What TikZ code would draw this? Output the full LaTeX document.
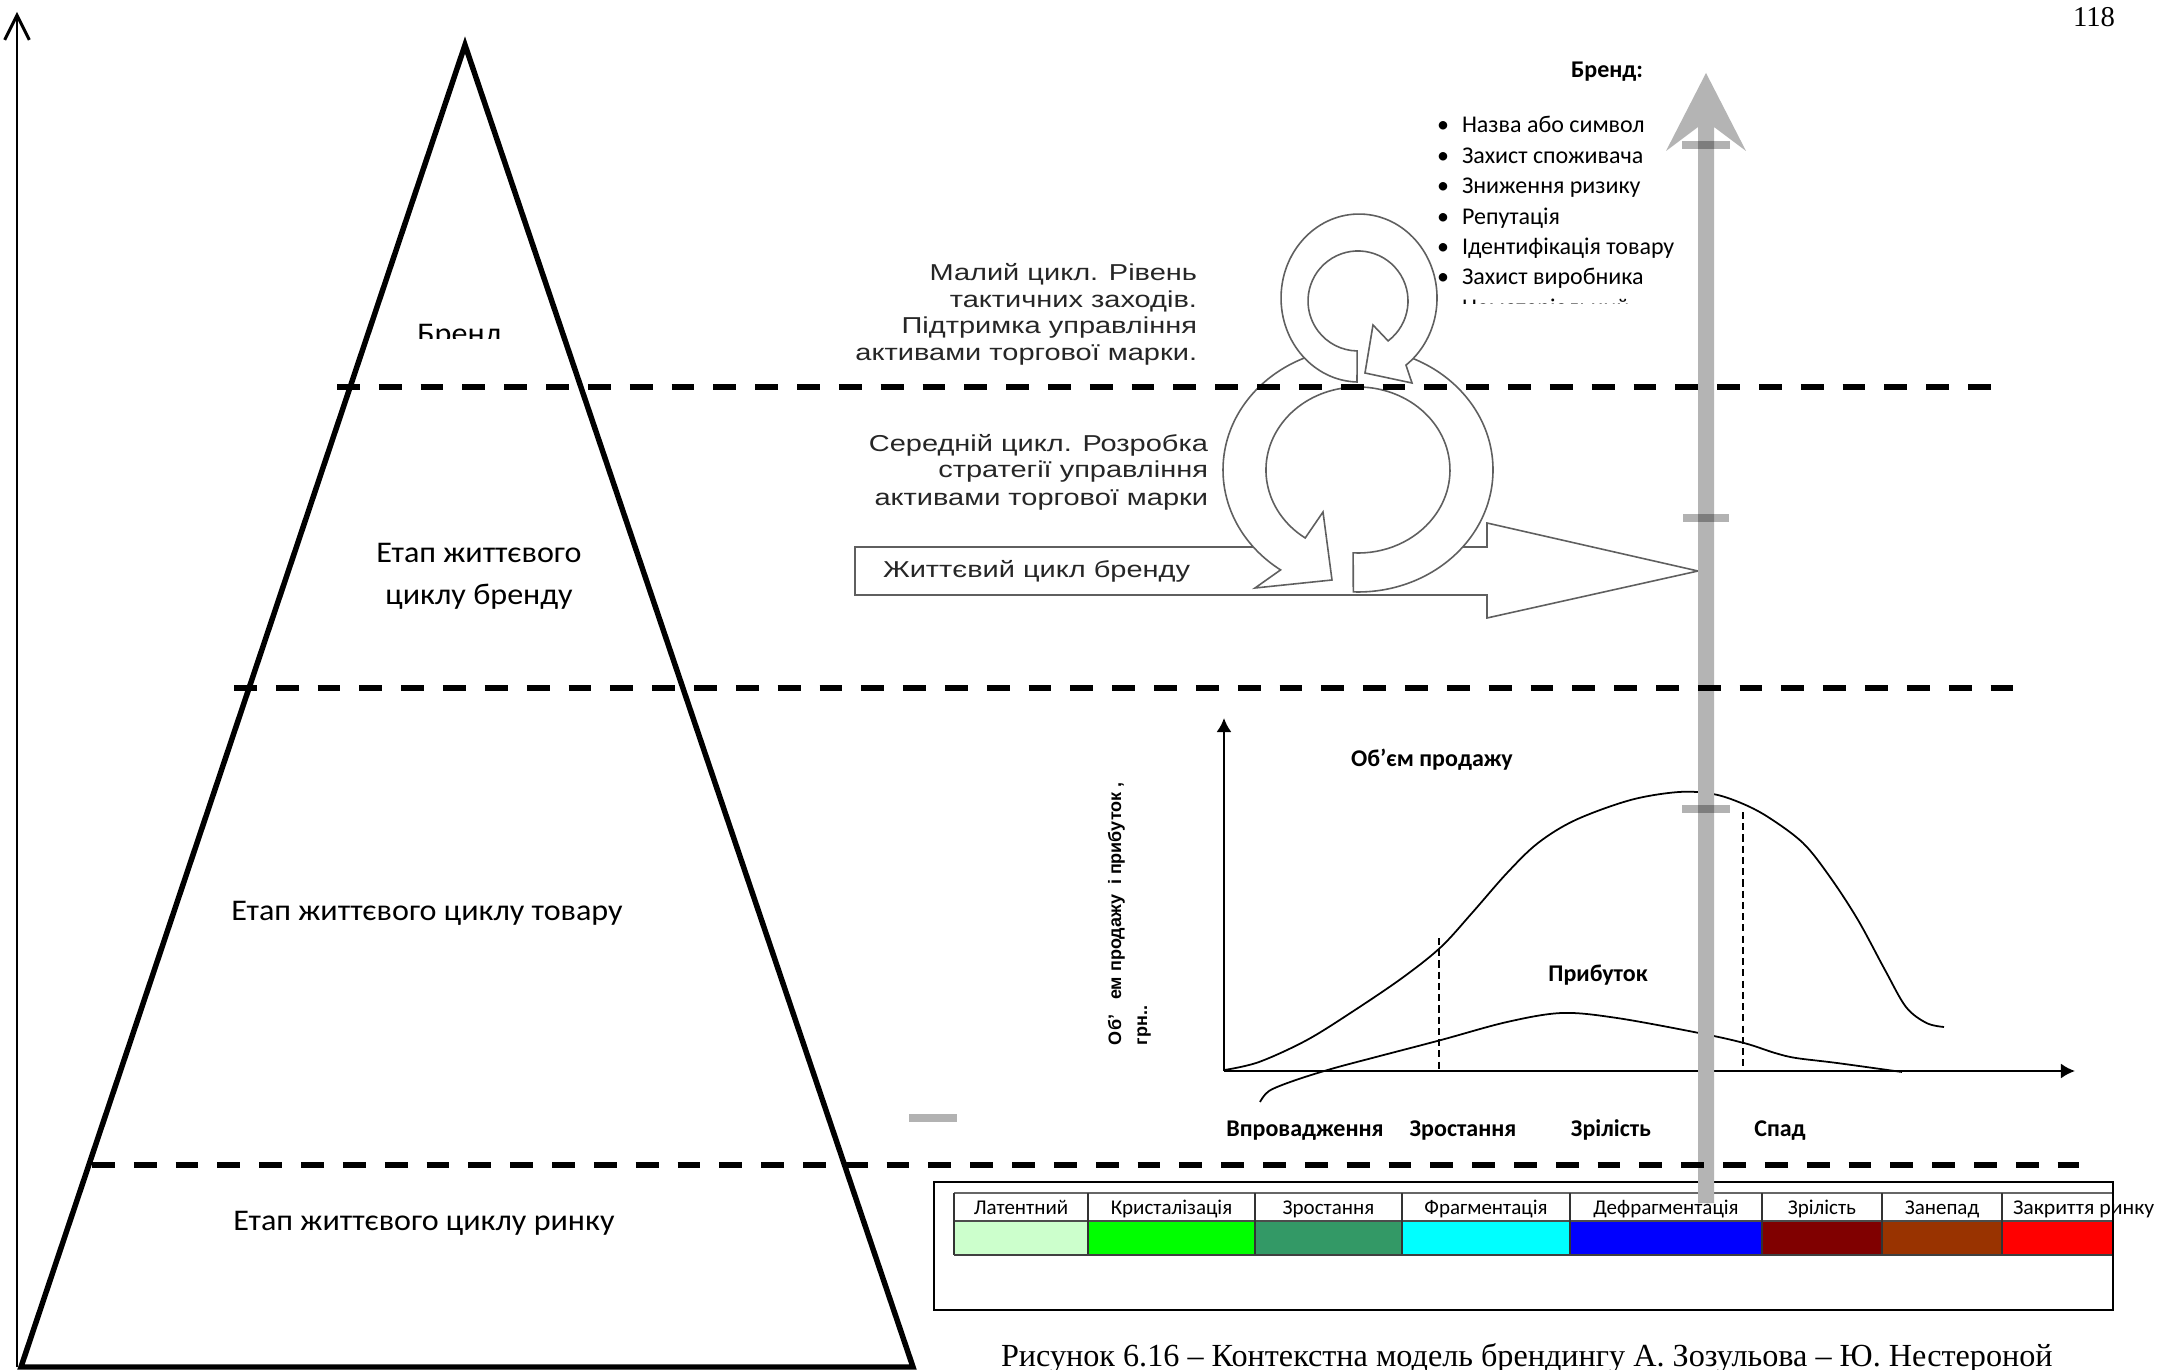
\documentclass[tikz,border=0pt]{standalone}
\usepackage{fontspec}
\setmainfont{Carlito}
\newfontfamily\arialf{Liberation Sans}
\newfontfamily\timesf{Liberation Serif}
\usetikzlibrary{arrows.meta}
\newcommand\fpx[1]{\fontsize{\fpeval{#1*0.28453}pt}{\fpeval{#1*0.3414}pt}\selectfont}
\definecolor{shaftgray}{RGB}{180,180,180}
\definecolor{ringgray}{RGB}{95,95,95}
\definecolor{tc1}{HTML}{CCFFCC}
\definecolor{tc2}{HTML}{00FF00}
\definecolor{tc3}{HTML}{339966}
\definecolor{tc4}{HTML}{00FFFF}
\definecolor{tc5}{HTML}{0000FF}
\definecolor{tc6}{HTML}{800000}
\definecolor{tc7}{HTML}{993300}
\definecolor{tc8}{HTML}{FF0000}
\begin{document}
\begin{tikzpicture}[x=0.1mm,y=-0.1mm,
  every node/.style={inner sep=0pt, outer sep=0pt},
  pyr/.style={line width=1.56pt, line join=miter},
  level/.style={line width=1.7pt, dash pattern=on 6.5pt off 5.4pt},
  ringst/.style={draw=ringgray, fill=white, line width=0.45pt, line join=miter},
  gcurve/.style={line width=0.5pt},
  gaxis/.style={line width=0.7pt},
  vdash/.style={line width=0.35pt, dash pattern=on 2pt off 1.2pt},
  bar/.style={fill=black, fill opacity=0.3},
  pyrtxt/.style={font={\fpx{30}}},
  arialtxt/.style={font={\arialf\fpx{23}}, text=black!85},
  listtxt/.style={font={\fpx{24}}},
  gbold/.style={font={\bfseries\fpx{24}}},
  stagetxt/.style={font={\bfseries\fpx{24}}},
  ylab/.style={font={\arialf\bfseries\fpx{18}}, rotate=90, anchor=base west},
  headtxt/.style={font={\fpx{21}}},
]
\useasboundingbox (0,0) rectangle (2159,1370);
\fill[white] (0,0) rectangle (2159,1370);

% ---------- pyramid and left axis
\coordinate (apex) at (465,45);
\coordinate (pbl) at (21,1367);
\coordinate (pbr) at (913,1367);
\draw[pyr] (apex) -- (pbr) -- (pbl) -- cycle;
\coordinate (axB) at (17,1367);
\coordinate (axT) at (17,12);
\draw[line width=0.85pt, -{Straight Barb[length=7pt,width=7pt,line width=0.85pt]}] (axB) -- (axT);

% ---------- life cycle arrow and rings
\draw[ringst] (855,547) -- (1487,547) -- (1487,523) -- (1698,571) -- (1487,618) -- (1487,595) -- (855,595) -- cycle;
\fill[white] (1358,470) ellipse [x radius=92, y radius=83];
\draw[ringst] (1353.3,591.9) arc[start angle=92, end angle=-235, x radius=135, y radius=122]
  -- (1255,588) -- (1332,580) -- (1323,512) -- (1305.2,538)
  arc[start angle=-235, end angle=93, x radius=92, y radius=83] -- cycle;
\fill[white] (1358,301) circle [radius=50];
\draw[ringst] (1357,382) arc[start angle=91.5, end angle=413, x radius=78, y radius=84]
  -- (1412,383) -- (1365,373) -- (1373,325) -- (1388.1,340.9)
  arc[start angle=53, end angle=-269, radius=50] -- cycle;

% ---------- graph
\coordinate (gO) at (1224,1071);
\coordinate (gY) at (1224,718);
\coordinate (gX) at (2075,1071);
\draw[gaxis, -{Latex[length=4pt,width=4.3pt]}] (gO) -- (gY);
\draw[gaxis, -{Latex[length=4pt,width=4.3pt]}] (gO) -- (gX);
\draw[gcurve] plot[smooth, tension=0.55] coordinates {(1224.5,1070) (1259,1062) (1307,1040) (1355,1010) (1403.5,977) (1441,947) (1472,913) (1507,873) (1538,843) (1575.5,820) (1630.6,800) (1678.8,792) (1713,794) (1741,803) (1768,817) (1803,843) (1830,877) (1858,920) (1885,970) (1906,1007) (1926.5,1023) (1944,1027)};
\draw[gcurve] plot[smooth, tension=0.55] coordinates {(1260,1102) (1269,1091) (1293,1081) (1331,1069) (1376,1057) (1441,1040) (1507,1022) (1562,1013) (1617,1018) (1699,1033) (1744,1043) (1775,1053) (1796,1058) (1837,1063) (1902,1072)};
\coordinate (v1t) at (1439,938); \coordinate (v1b) at (1439,1070);
\coordinate (v2t) at (1743,812); \coordinate (v2b) at (1743,1068);
\draw[vdash] (v1t) -- (v1b);
\draw[vdash] (v2t) -- (v2b);

% ---------- table
\foreach \xa/\xb/\c in {954/1088/tc1,1088/1255/tc2,1255/1402/tc3,1402/1570/tc4,1570/1762/tc5,1762/1882/tc6,1882/2002/tc7,2002/2113/tc8}{
  \fill[\c] (\xa,1221) rectangle (\xb,1255);
}
\draw[line width=0.3pt, black!60] (954,1193) -- (2113,1193);
\draw[line width=0.3pt, black!70] (954,1221) -- (2113,1221);
\foreach \xx in {954,1088,1255,1402,1570,1762,1882,2002}{
  \draw[line width=0.3pt, black!80] (\xx,1193) -- (\xx,1255);
}
\draw[line width=0.5pt, black!75] (954,1255) -- (2113,1255);
\draw[line width=0.75pt] (934,1182) rectangle (2113,1310);

% ---------- grey vertical arrow and bars
\fill[shaftgray] (1706,73) -- (1746,151) -- (1714,127) -- (1714,1203) -- (1698,1203) -- (1698,127) -- (1666,151) -- cycle;
\fill[bar] (1682,141) rectangle (1730,149);
\fill[bar] (1683,514) rectangle (1729,522);
\fill[bar] (1682,805) rectangle (1730,813);
\fill[bar] (909,1114) rectangle (957,1122);

% ---------- pyramid texts
\begin{scope}
  \clip (380,290) rectangle (540,339);
  \node[pyrtxt, anchor=base] (tbrand) at (460,343) {\scalebox{1.07}[1]{Бренд}};
\end{scope}
\node[pyrtxt, anchor=base] (tb1) at (479,563) {\scalebox{1.07}[1]{Етап життєвого}};
\node[pyrtxt, anchor=base] (tb2) at (479,604) {\scalebox{1.07}[1]{циклу бренду}};
\node[pyrtxt, anchor=base] (tt) at (427,920) {\scalebox{1.07}[1]{Етап життєвого циклу товару}};
\node[pyrtxt, anchor=base] (tr) at (424,1230) {\scalebox{1.07}[1]{Етап життєвого циклу ринку}};

% ---------- cycle texts
\node[arialtxt, anchor=base east] (m1) at (1197,281) {\scalebox{1.26}[1]{Малий цикл. Рівень}};
\node[arialtxt, anchor=base east] (m2) at (1197,307.5) {\scalebox{1.26}[1]{тактичних заходів.}};
\node[arialtxt, anchor=base east] (m3) at (1197,334) {\scalebox{1.26}[1]{Підтримка управління}};
\node[arialtxt, anchor=base east] (m4) at (1197,360) {\scalebox{1.26}[1]{активами торгової марки.}};
\node[arialtxt, anchor=base east] (s1) at (1208,451) {\scalebox{1.26}[1]{Середній цикл. Розробка}};
\node[arialtxt, anchor=base east] (s2) at (1208,478) {\scalebox{1.26}[1]{стратегії управління}};
\node[arialtxt, anchor=base east] (s3) at (1208,505) {\scalebox{1.26}[1]{активами торгової марки}};
\node[arialtxt, anchor=base west] (lc) at (883,577) {\scalebox{1.26}[1]{Життєвий цикл бренду}};

% ---------- brand list
\node[gbold, anchor=base] (bh) at (1607,78) {Бренд:};
\foreach \t/\yy [count=\i] in {Назва або символ/133, Захист споживача/164, Зниження ризику/194, Репутація/224.5, Ідентифікація товару/255, Захист виробника/285}{
  \node[listtxt, anchor=base] (bd\i) at (1443,\yy) {•};
  \node[listtxt, anchor=base west] (bl\i) at (1462,\yy) {\t};
}
\begin{scope}
  \clip (1450,290) rectangle (1700,303.5);
  \node[listtxt, anchor=base west] (bl7) at (1462,316) {Нематеріальний};
\end{scope}

% ---------- graph texts
\node[gbold, anchor=base] (gv) at (1432,766) {Об’єм продажу};
\node[gbold, anchor=base] (gp) at (1598,981) {Прибуток};
\node[stagetxt, anchor=base] (st1) at (1305,1136) {Впровадження};
\node[stagetxt, anchor=base] (st2) at (1463,1136) {Зростання};
\node[stagetxt, anchor=base] (st3) at (1611,1136) {Зрілість};
\node[stagetxt, anchor=base] (st4) at (1780,1136) {Спад};
\node[ylab] (yl1) at (1121,1045) {Об’\ \ \ ем продажу\ \ і прибуток ,};
\node[ylab] (yl2) at (1147,1045) {грн..};

% ---------- table texts
\foreach \xa/\xb/\t [count=\i] in {954/1088/Латентний,1088/1255/Кристалізація,1255/1402/Зростання,1402/1570/Фрагментація,1570/1762/Дефрагментація,1762/1882/Зрілість,1882/2002/Занепад}{
  \node[headtxt, anchor=base] (th\i) at ({(\xa+\xb)/2},1214) {\t};
}
\node[headtxt, anchor=base west] (th8) at (2013,1214) {\scalebox{1.04}[1]{Закриття ринку}};

% ---------- caption and page number
\node[font={\timesf\fpx{32.2}}, anchor=base west] (cap) at (1001,1366) {Рисунок 6.16 – Контекстна модель брендингу А. Зозульова – Ю. Нестероной};
\node[font={\timesf\fpx{28.7}}, anchor=base east] (pg) at (2115,27) {118};

% ---------- level dashed lines
\coordinate (d1a) at (337,387); \coordinate (d1b) at (1997,387);
\coordinate (d2a) at (234,688); \coordinate (d2b) at (2024,688);
\coordinate (d3a) at (92,1165); \coordinate (d3b) at (2079,1165);
\draw[level] (d1a) -- (d1b);
\draw[level] (d2a) -- (d2b);
\draw[level] (d3a) -- (d3b);
\end{tikzpicture}
\end{document}
